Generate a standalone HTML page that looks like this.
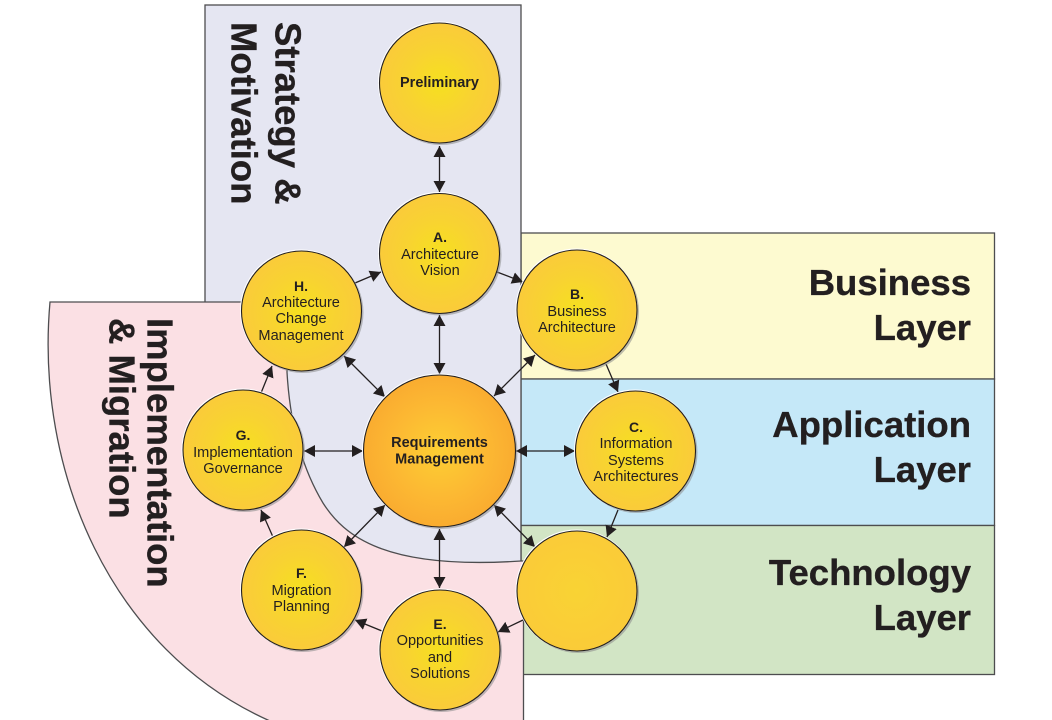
<!DOCTYPE html>
<html><head><meta charset="utf-8"><style>
html,body{margin:0;padding:0;background:#fff}
svg{display:block}
text{font-family:"Liberation Sans",sans-serif;fill:#231f20}
.b{font-size:36.5px;font-weight:700;stroke:#231f20;stroke-width:.35}
.e{text-anchor:end}
.n{font-size:14.6px;text-anchor:middle}
.l{font-size:14px;font-weight:700;text-anchor:middle}
.r{font-size:14.5px;font-weight:700;text-anchor:middle}
.a{stroke:#231f20;stroke-width:1.3;fill:none}
.bg{stroke:#4d4d4f;stroke-width:1.3}
.sh{fill:#8a8a8a;opacity:.55}
.c{stroke:#231f20;stroke-width:1.1}
</style></head><body>
<svg width="1052" height="720" viewBox="0 0 1052 720" xmlns="http://www.w3.org/2000/svg">
<defs>
<radialGradient id="y"><stop offset="0" stop-color="#f6e01f"/><stop offset=".55" stop-color="#f8d331"/><stop offset="1" stop-color="#facb3a"/></radialGradient>
<radialGradient id="d"><stop offset="0" stop-color="#f9d334"/><stop offset="1" stop-color="#facb38"/></radialGradient>
<radialGradient id="o"><stop offset="0" stop-color="#fdcf33"/><stop offset=".6" stop-color="#fcb933"/><stop offset="1" stop-color="#faac30"/></radialGradient>
<marker id="m" markerUnits="userSpaceOnUse" markerWidth="13" markerHeight="13" refX="11" refY="6" orient="auto-start-reverse"><path d="M0 0L11 6L0 12Z" fill="#231f20"/></marker>
</defs>

<rect x="521" y="233" width="473.5" height="146" fill="#fdfad0" class="bg"/>
<rect x="521" y="379" width="473.5" height="146.5" fill="#c5e8f8" class="bg"/>
<rect x="521" y="525.5" width="473.5" height="149" fill="#d2e5c5" class="bg"/>
<rect x="205" y="5" width="316" height="560" fill="#e5e6f2" class="bg"/>
<path d="M50 302L290 302L287 372C290 425 302 468 323 503C344 536 385 570 521 561L523.5 561L523.5 721L270 721C110 650 35 470 50 302Z" fill="#fbe0e4" class="bg"/>

<g class="b">
<text class="e" x="971" y="295">Business</text>
<text class="e" x="971" y="340">Layer</text>
<text class="e" x="971" y="437">Application</text>
<text class="e" x="971" y="482">Layer</text>
<text class="e" x="971" y="585">Technology</text>
<text class="e" x="971" y="630">Layer</text>
<text transform="translate(275.5 22) rotate(90)">Strategy &amp;</text>
<text transform="translate(231.5 22) rotate(90)">Motivation</text>
<text transform="translate(147.5 318) rotate(90)">Implementation</text>
<text transform="translate(109.5 318) rotate(90)">&amp; Migration</text>
</g>

<g class="a">
<line x1="439.5" y1="146" x2="439.5" y2="192" marker-start="url(#m)" marker-end="url(#m)"/>
<line x1="439.5" y1="315" x2="439.5" y2="374" marker-start="url(#m)" marker-end="url(#m)"/>
<line x1="439.5" y1="529" x2="439.5" y2="588" marker-start="url(#m)" marker-end="url(#m)"/>
<line x1="344" y1="356" x2="385" y2="397" marker-start="url(#m)" marker-end="url(#m)"/>
<line x1="535" y1="355" x2="494" y2="396" marker-start="url(#m)" marker-end="url(#m)"/>
<line x1="516" y1="451" x2="575" y2="451" marker-start="url(#m)" marker-end="url(#m)"/>
<line x1="304" y1="451" x2="363" y2="451" marker-start="url(#m)" marker-end="url(#m)"/>
<line x1="494" y1="505" x2="535" y2="547" marker-start="url(#m)" marker-end="url(#m)"/>
<line x1="385" y1="505" x2="344" y2="547" marker-start="url(#m)" marker-end="url(#m)"/>
<line x1="355" y1="283" x2="381" y2="272" marker-end="url(#m)"/>
<line x1="497" y1="272" x2="523" y2="282" marker-end="url(#m)"/>
<line x1="606" y1="364" x2="618" y2="392" marker-end="url(#m)"/>
<line x1="618" y1="510" x2="607" y2="537" marker-end="url(#m)"/>
<line x1="523" y1="620" x2="498" y2="632" marker-end="url(#m)"/>
<line x1="382" y1="631" x2="355" y2="620" marker-end="url(#m)"/>
<line x1="273" y1="537" x2="261" y2="510" marker-end="url(#m)"/>
<line x1="261" y1="393" x2="272" y2="366" marker-end="url(#m)"/>
</g>

<g>
<circle class="sh" cx="441" cy="84.5" r="60.5"/>
<circle class="sh" cx="441" cy="255" r="60.5"/>
<circle class="sh" cx="578.5" cy="311.5" r="60.5"/>
<circle class="sh" cx="637" cy="452.5" r="60.5"/>
<circle class="sh" cx="578.5" cy="592.5" r="60.5"/>
<circle class="sh" cx="441.5" cy="651.5" r="60.5"/>
<circle class="sh" cx="303" cy="591.5" r="60.5"/>
<circle class="sh" cx="244.5" cy="451.5" r="60.5"/>
<circle class="sh" cx="303" cy="312.5" r="60.5"/>
<circle class="sh" cx="441" cy="452.5" r="76.5"/>
</g>
<g fill="#fff">
<circle cx="439" cy="82.5" r="61"/><circle cx="439" cy="253" r="61"/><circle cx="576.5" cy="309.5" r="61"/><circle cx="635" cy="450.5" r="61"/><circle cx="576.5" cy="590.5" r="61"/><circle cx="439.5" cy="649.5" r="61"/><circle cx="301" cy="589.5" r="61"/><circle cx="242.5" cy="449.5" r="61"/><circle cx="301" cy="310.5" r="61"/><circle cx="439" cy="450.5" r="77"/>
</g>
<g class="c" fill="url(#y)">
<circle cx="439.5" cy="83" r="60"/>
<circle cx="439.5" cy="253.5" r="60"/>
<circle cx="577" cy="310" r="60"/>
<circle cx="635.5" cy="451" r="60"/>
<circle cx="577" cy="591" r="60" fill="url(#d)"/>
<circle cx="440" cy="650" r="60"/>
<circle cx="301.5" cy="590" r="60"/>
<circle cx="243" cy="450" r="60"/>
<circle cx="301.5" cy="311" r="60"/>
</g>
<circle class="c" cx="439.5" cy="451" r="76" fill="url(#o)"/>

<text class="r" x="439.5" y="87">Preliminary</text>
<text class="r" x="439.5" y="447">Requirements</text>
<text class="r" x="439.5" y="463.5">Management</text>

<text class="l" x="440" y="242">A.</text>
<text class="n" x="440" y="259">Architecture</text>
<text class="n" x="440" y="275">Vision</text>

<text class="l" x="577" y="299">B.</text>
<text class="n" x="577" y="316">Business</text>
<text class="n" x="577" y="332">Architecture</text>

<text class="l" x="636" y="432">C.</text>
<text class="n" x="636" y="448">Information</text>
<text class="n" x="636" y="465">Systems</text>
<text class="n" x="636" y="481">Architectures</text>

<text class="l" x="440" y="629">E.</text>
<text class="n" x="440" y="645">Opportunities</text>
<text class="n" x="440" y="662">and</text>
<text class="n" x="440" y="678">Solutions</text>

<text class="l" x="301.5" y="578">F.</text>
<text class="n" x="301.5" y="595">Migration</text>
<text class="n" x="301.5" y="611">Planning</text>

<text class="l" x="243" y="440">G.</text>
<text class="n" x="243" y="457">Implementation</text>
<text class="n" x="243" y="473">Governance</text>

<text class="l" x="301" y="291">H.</text>
<text class="n" x="301" y="307">Architecture</text>
<text class="n" x="301" y="323">Change</text>
<text class="n" x="301" y="340">Management</text>
</svg>
</body></html>
